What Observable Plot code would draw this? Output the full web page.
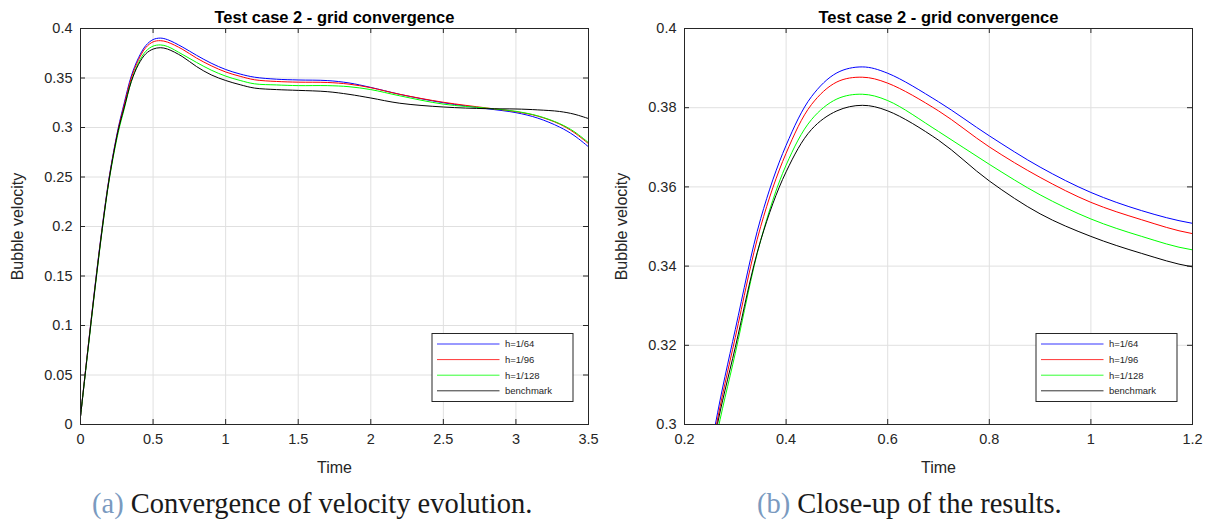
<!DOCTYPE html>
<html><head><meta charset="utf-8">
<script src="https://cdn.jsdelivr.net/npm/d3@7"></script>
<script src="https://cdn.jsdelivr.net/npm/@observablehq/plot@0.6"></script>
<style>
body{margin:0;background:#fff;}
#wrap{position:relative;width:1210px;height:520px;overflow:hidden;background:#fff;}
.panel{position:absolute;top:0;}
.cap{position:absolute;top:487px;font-family:"Liberation Serif","DejaVu Serif",serif;font-size:28.5px;line-height:34px;color:#1a1a1a;white-space:nowrap;}
.cap .lab{color:#7a9abf;}
</style></head><body><div id="wrap"></div>
<script>
// ---- data ----
const seriesNames = ["h=1/64", "h=1/96", "h=1/128", "benchmark"];
const seriesColors = ["#0000ff", "#ff0000", "#00ff00", "#000000"];
const time = [0, 0.05, 0.1, 0.15, 0.2, 0.26, 0.3, 0.35, 0.4, 0.45, 0.5, 0.55, 0.6, 0.7, 0.8, 0.9, 1.0, 1.1, 1.2,
  1.35, 1.5, 1.7, 1.85, 2.0, 2.2, 2.5, 2.8, 3.0, 3.15, 3.3, 3.4, 3.5];
const velH64 = [0.008, 0.075, 0.14, 0.2, 0.252, 0.2995, 0.324, 0.352, 0.3705, 0.3828, 0.3888, 0.3903, 0.3887, 0.3815, 0.3729, 0.3650, 0.3586, 0.3540, 0.3508,
  0.3488, 0.348, 0.3474, 0.345, 0.3405, 0.3335, 0.325, 0.319, 0.315, 0.3095, 0.3005, 0.292, 0.2805];
const velH96 = [0.008, 0.075, 0.139, 0.199, 0.251, 0.298, 0.322, 0.35, 0.3685, 0.3808, 0.3865, 0.3877, 0.3862, 0.3792, 0.3701, 0.3624, 0.3561, 0.3517, 0.3482,
  0.3465, 0.3458, 0.3455, 0.3438, 0.3402, 0.3335, 0.3255, 0.3197, 0.316, 0.3115, 0.3035, 0.295, 0.2837];
const velH128 = [0.008, 0.073, 0.137, 0.197, 0.249, 0.295, 0.318, 0.3465, 0.3655, 0.377, 0.3822, 0.3834, 0.3818, 0.374, 0.3657, 0.3580, 0.3519, 0.3475, 0.3441,
  0.343, 0.3423, 0.3423, 0.3412, 0.3383, 0.332, 0.3236, 0.3195, 0.3163, 0.3118, 0.304, 0.296, 0.2847];
const velBenchmark = [0.008, 0.074, 0.138, 0.198, 0.25, 0.297, 0.3195, 0.3465, 0.3638, 0.3745, 0.3792, 0.3806, 0.3792, 0.3718, 0.3615, 0.3532, 0.3475, 0.3432, 0.3398,
  0.3383, 0.3375, 0.3362, 0.3335, 0.3298, 0.3245, 0.3207, 0.319, 0.3187, 0.3178, 0.3162, 0.3135, 0.309];
const xTicksA = [0, 0.5, 1, 1.5, 2, 2.5, 3, 3.5];
const yTicksA = [0, 0.05, 0.1, 0.15, 0.2, 0.25, 0.3, 0.35, 0.4];
const xTicksB = [0.2, 0.4, 0.6, 0.8, 1, 1.2];
const yTicksB = [0.3, 0.32, 0.34, 0.36, 0.38, 0.4];
const titleText = "Test case 2 - grid convergence";
const xLabel = "Time";
const yLabel = "Bubble velocity";
const captions = [["(a)", "Convergence of velocity evolution."], ["(b)", "Close-up of the results."]];

const allVel = [velH64, velH96, velH128, velBenchmark];
const rows = [];
allVel.forEach((vals, s) => vals.forEach((v, i) => rows.push({series: seriesNames[s], t: time[i], v})));

const W = 605, H = 480, mT = 28, mB = 56, mL = 80, mR = 17;
const fw = W - mL - mR, fh = H - mT - mB;
const axisColor = "#262626";
const fmt = d => String(d);

function makePanel(xDomain, yDomain, xTicks, yTicks) {
  const lines = seriesNames.map((name, s) =>
    Plot.line(rows.filter(r => r.series === name), {x: "t", y: "v", stroke: seriesColors[s], strokeWidth: 1, curve: "catmull-rom", clip: true}));
  const svg = Plot.plot({
    width: W, height: H, marginTop: mT, marginBottom: mB, marginLeft: mL, marginRight: mR,
    style: {fontFamily: "'Liberation Sans', Arial, sans-serif", fontSize: "14.5px", color: axisColor, background: "#fff"},
    x: {domain: xDomain},
    y: {domain: yDomain},
    marks: [
      Plot.gridX(xTicks, {stroke: "#e0e0e0", strokeOpacity: 1}),
      Plot.gridY(yTicks, {stroke: "#e0e0e0", strokeOpacity: 1}),
      ...lines,
      Plot.frame({stroke: axisColor}),
      Plot.tickX(xTicks, {x: d => d, insetTop: fh - 5, stroke: axisColor}),
      Plot.tickX(xTicks, {x: d => d, insetBottom: fh - 5, stroke: axisColor}),
      Plot.tickY(yTicks, {y: d => d, insetLeft: fw - 5, stroke: axisColor}),
      Plot.tickY(yTicks, {y: d => d, insetRight: fw - 5, stroke: axisColor}),
      Plot.axisX(xTicks, {tickSize: 0, tickPadding: 9, label: null, tickFormat: fmt}),
      Plot.axisY(yTicks, {tickSize: 0, tickPadding: 8, label: null, tickFormat: fmt}),
      Plot.text([xLabel], {text: d => d, frameAnchor: "bottom", lineAnchor: "middle", textAnchor: "middle", dy: 43, fontSize: 16}),
      Plot.text([yLabel], {text: d => d, frameAnchor: "left", lineAnchor: "middle", textAnchor: "middle", rotate: -90, dx: -63, fontSize: 16}),
      Plot.text([titleText], {text: d => d, frameAnchor: "top", lineAnchor: "middle", textAnchor: "middle", dy: -11, fontSize: 16.5, fontWeight: "bold", fill: "#000"})
    ]
  });
  // legend box (MATLAB style, south-east inside the axes)
  const bw = 141, bh = 68;
  const bx = W - mR - 15.5 - bw, by = H - mB - 23 - bh;
  const g = d3.select(svg).append("g").attr("transform", `translate(${bx},${by})`)
    .attr("font-family", "'Liberation Sans', Arial, sans-serif").attr("font-size", 9.5).attr("text-anchor", "start");
  g.append("rect").attr("x", 0.5).attr("y", 0.5).attr("width", bw).attr("height", bh)
    .attr("fill", "#fff").attr("stroke", axisColor).attr("stroke-width", 1);
  seriesNames.forEach((name, s) => {
    const yy = 11 + s * 15.6;
    g.append("line").attr("x1", 5.5).attr("x2", 68).attr("y1", yy).attr("y2", yy)
      .attr("stroke", seriesColors[s]).attr("stroke-width", 1).attr("stroke-opacity", 0.8);
    g.append("text").attr("x", 73.5).attr("y", yy).attr("dy", "0.35em").attr("text-anchor", "start").attr("fill", axisColor).text(name);
  });
  return svg;
}

const wrap = document.getElementById("wrap");
const pA = makePanel([0, 3.5], [0, 0.4], xTicksA, yTicksA);
const pB = makePanel([0.2, 1.2], [0.3, 0.4], xTicksB, yTicksB);
pA.classList.add("panel"); pA.style.left = "0px";
pB.classList.add("panel"); pB.style.left = "604px";
wrap.appendChild(pA); wrap.appendChild(pB);

const capLeft = [92, 757];
captions.forEach(([lab, txt], i) => {
  const d = document.createElement("div");
  d.className = "cap";
  d.style.left = capLeft[i] + "px";
  d.innerHTML = `<span class="lab">${lab}</span> ${txt}`;
  wrap.appendChild(d);
});
</script></body></html>
